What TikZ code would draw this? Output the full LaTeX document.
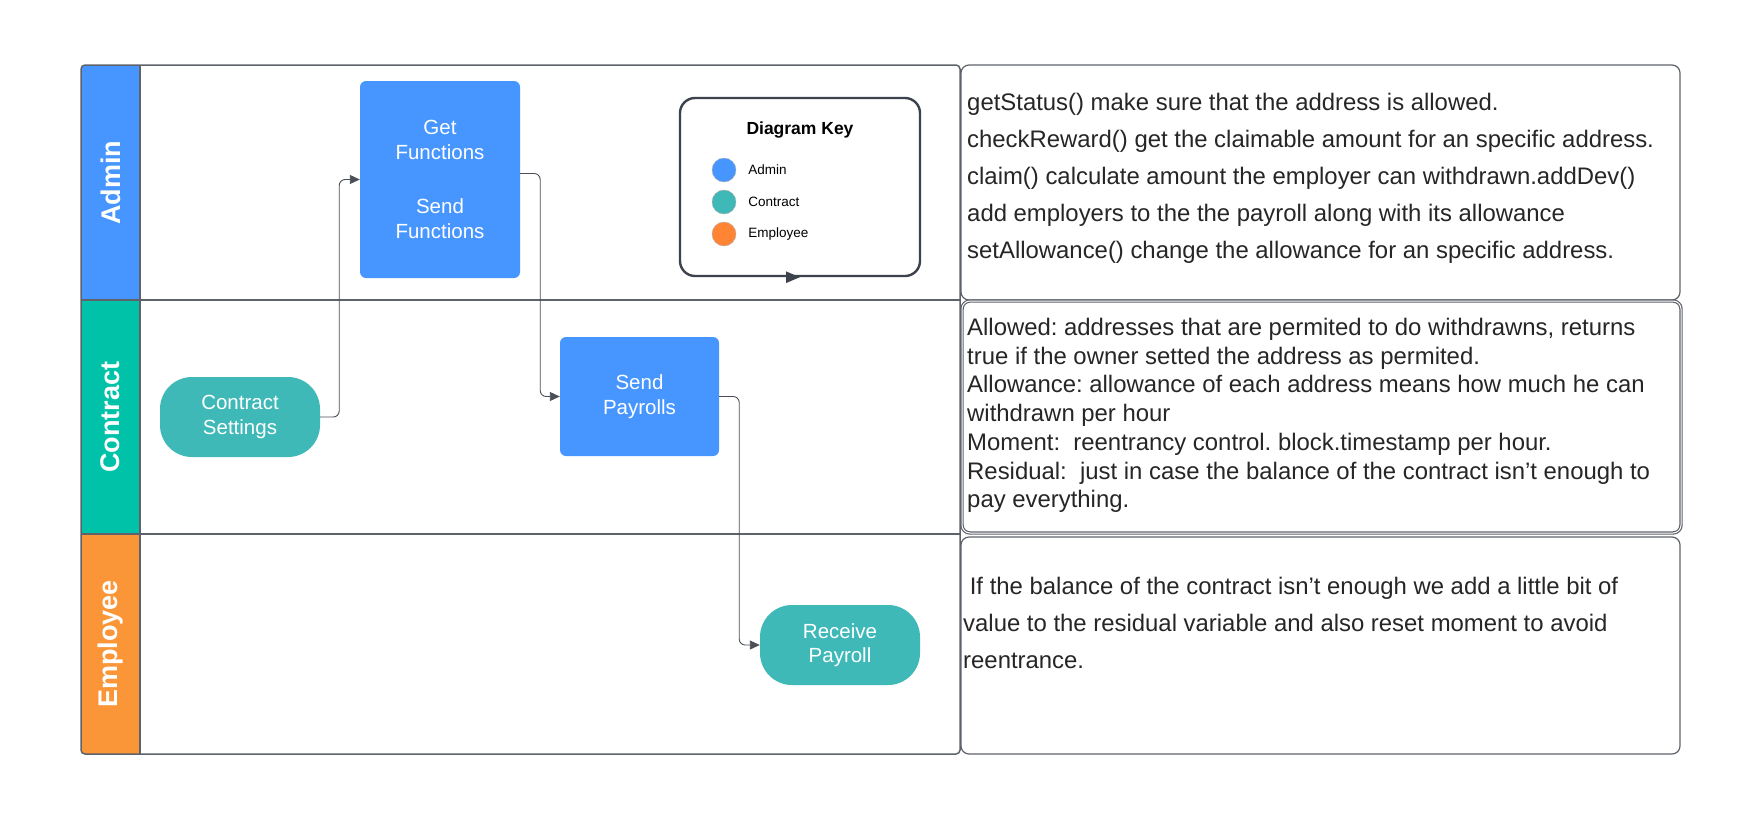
\documentclass[tikz,border=0pt]{standalone}
\usepackage{fontspec}
\setmainfont{Liberation Sans}
\frenchspacing
\usetikzlibrary{arrows.meta,positioning}
\definecolor{adminblue}{HTML}{4796FF}
\definecolor{laneteal}{HTML}{00C2A8}
\definecolor{softteal}{HTML}{3FB8B8}
\definecolor{emporange}{HTML}{FB9638}
\definecolor{keyorange}{HTML}{FF8534}
\definecolor{edgegray}{HTML}{4A4F57}
\definecolor{framegray}{HTML}{5E636B}
\definecolor{keygray}{HTML}{3C434C}
\begin{document}
\begin{tikzpicture}[
  x=1pt, y=-1pt,
  font=\fontsize{20.5}{24.6}\selectfont,
  proc/.style = {fill=adminblue, text=white, rounded corners=6pt, align=center, minimum width=160pt, inner sep=0pt},
  term/.style = {fill=softteal, text=white, rounded corners=32pt, align=center, minimum width=160pt, minimum height=80pt, inner sep=0pt},
  lanetitle/.style = {rotate=90, text=white, font=\fontsize{27}{30}\selectfont\bfseries},
  note/.style = {draw=framegray, line width=1.2pt, rounded corners=8pt, minimum width=719pt, inner sep=0pt},
  notetext/.style = {anchor=north west, align=left, inner sep=0pt, text=black!85},
  flow/.style = {draw=edgegray, line width=0.9pt, rounded corners=6pt, -{Triangle[length=10pt,width=9pt]}},
  dot/.style = {circle, minimum size=24pt, inner sep=0pt, draw=black!30, line width=0.4pt},
  keytext/.style = {font=\fontsize{13.5}{16}\selectfont, inner sep=0pt}
]
  \fill[white] (0,0) rectangle (1760,822);
  \useasboundingbox (0,0) rectangle (1760,822);

  \begin{scope}
    \clip[rounded corners=4pt] (81,65) rectangle (960,754);
    \fill[adminblue] (81,65) rectangle (140,300);
    \fill[laneteal] (81,300) rectangle (140,534);
    \fill[emporange] (81,534) rectangle (140,754);
  \end{scope}
  \draw[framegray, line width=1.5pt, rounded corners=4pt] (81,65) rectangle (960,754);
  \draw[framegray, line width=1.5pt] (81,300) -- (960,300) (81,534) -- (960,534) (140,65) -- (140,754);

  \node[lanetitle] (admin) at (110.5,182.5) {Admin};
  \node[lanetitle] (contract) at (110.5,417) {Contract};
  \node[lanetitle] (employee) at (110.5,644) {Employee};

  \node[proc, minimum height=197pt] (get) at (440,179.5) {Get\\Functions\\[30pt]Send\\Functions};
  \node[proc, minimum width=159pt, minimum height=119pt] (pay) at (639.5,396.5) {Send\\Payrolls};
  \node[term] (cset) at (240,417) {Contract\\Settings};
  \node[term] (recv) at (840,645) {Receive\\Payroll};

  \node[draw=keygray, line width=2.4pt, rounded corners=15pt, minimum width=240pt, minimum height=178pt] (key) at (800,187) {};
  \draw[keygray, line width=2.4pt, -{Triangle[length=14pt,width=11pt]}] ([xshift=-14pt]key.south) -- (key.south);
  \node[font=\fontsize{17.5}{20}\selectfont\bfseries] (keytitle) at (800,130) {Diagram Key};
  \node[dot, fill=adminblue] (kadmin) at (724,170) {};
  \node[dot, fill=softteal] (kcontract) at (724,202) {};
  \node[dot, fill=keyorange] (kemployee) at (724,234) {};
  \node[keytext, right=12pt of kadmin] {Admin};
  \node[keytext, right=12pt of kcontract] {Contract};
  \node[keytext, right=12pt of kemployee] {Employee};

  \draw[flow] (cset.east) -- ++(19,0) |- (get.west);
  \draw[flow] ([yshift=6pt]get.east) -- ++(20,0) |- (pay.west);
  \draw[flow] (pay.east) -- ++(20,0) |- (recv.west);

  \node[note, minimum height=235pt] (funcs) at (1320.5,182.5) {};
  \node[note, minimum height=232pt, double, double distance=1pt] (vars) at (1321.5,417) {};
  \node[note, minimum height=217pt] (resid) at (1320.5,645.5) {};

  \node[notetext, font=\fontsize{23.9}{37}\selectfont] (funcstext) at (967,93) {getStatus() make sure that the address is allowed.\\checkReward() get the claimable amount for an specific address.\\claim() calculate amount the employer can withdrawn.addDev()\\add employers to the the payroll along with its allowance\\setAllowance() change the allowance for an specific address.};
  \node[notetext, font=\fontsize{23.9}{28.7}\selectfont] (varstext) at (967,318) {Allowed: addresses that are permited to do withdrawns, returns\\true if the owner setted the address as permited.\\Allowance: allowance of each address means how much he can\\withdrawn per hour\\Moment:\ \ reentrancy control. block.timestamp per hour.\\Residual:\ \ just in case the balance of the contract isn’t enough to\\pay everything.};
  \node[notetext, font=\fontsize{23.9}{37}\selectfont] (residtext) at (963,577) {\ If the balance of the contract isn’t enough we add a little bit of\\value to the residual variable and also reset moment to avoid\\reentrance.};
\end{tikzpicture}
\end{document}
